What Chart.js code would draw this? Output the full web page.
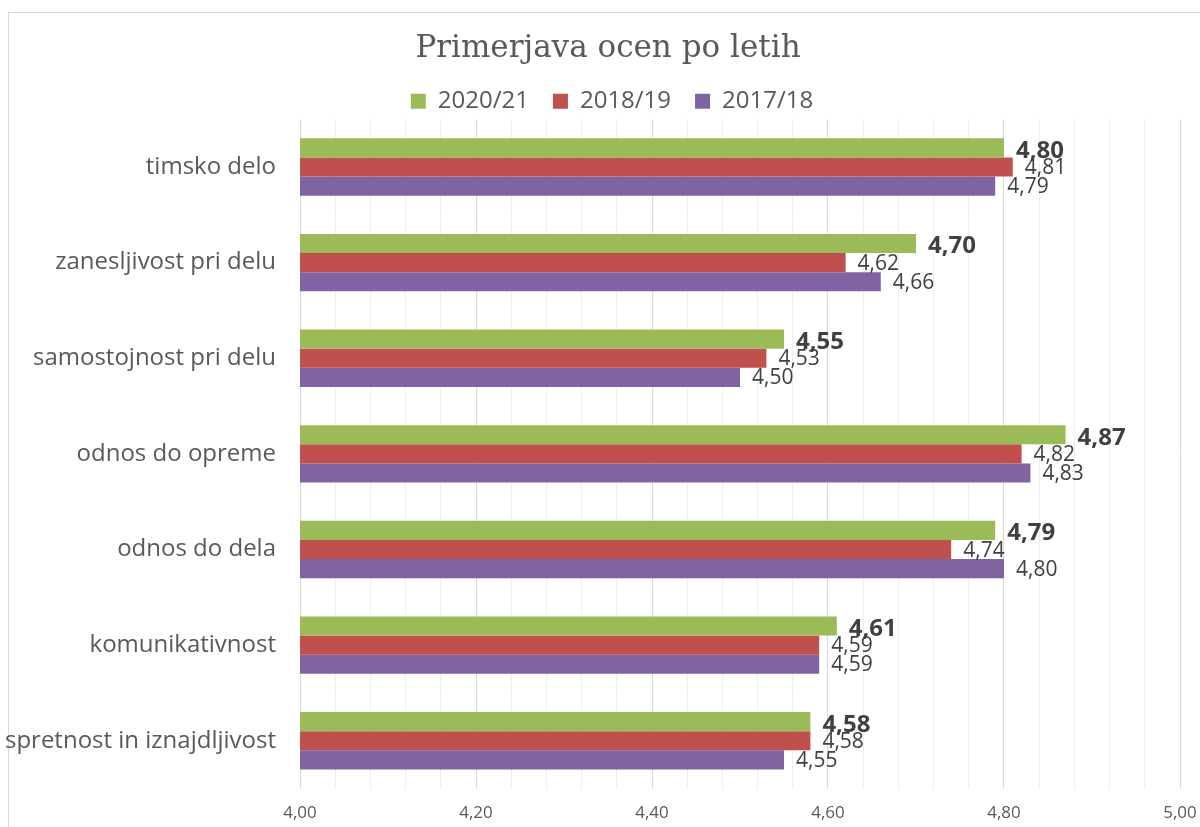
<!DOCTYPE html>
<html>
<head>
<meta charset="utf-8">
<script src="https://cdn.jsdelivr.net/npm/chart.js@4"></script>
<style>
  html, body { margin: 0; padding: 0; background: #fff; overflow: hidden; }
  #frame { position: absolute; left: 8px; top: 12px; width: 1400px; height: 1000px;
           border-left: 1px solid #d9d9d9; border-top: 1px solid #d9d9d9; }
  #wrap { position: absolute; left: 0; top: 0; width: 1200px; height: 827px; }
</style>
</head>
<body>
<div id="frame"></div>
<div id="wrap"><canvas id="chart"></canvas></div>
<script>
// podatki
let categories = ['timsko delo', 'zanesljivost pri delu', 'samostojnost pri delu', 'odnos do opreme', 'odnos do dela', 'komunikativnost', 'spretnost in iznajdljivost'];
let seriesNames = ['2020/21', '2018/19', '2017/18'];
let values2021 = [4.80, 4.70, 4.55, 4.87, 4.79, 4.61, 4.58];
let values1819 = [4.81, 4.62, 4.53, 4.82, 4.74, 4.59, 4.58];
let values1718 = [4.79, 4.66, 4.50, 4.83, 4.80, 4.59, 4.55];
let axisMin = 4.00;
let axisMax = 5.00;

let colors = ['#9bbb59', '#c0504d', '#8064a2'];
let fontName = '"Open Sans", "Noto Sans", sans-serif';

function fmt(v) {
  return v.toFixed(2).replace('.', ',');
}

// oznake vrednosti ob stolpcih
let valueLabels = {
  id: 'valueLabels',
  afterDatasetsDraw(chart) {
    let ctx = chart.ctx;
    ctx.save();
    ctx.textAlign = 'left';
    ctx.textBaseline = 'middle';
    ctx.fillStyle = '#404040';
    chart.data.datasets.forEach((ds, i) => {
      let meta = chart.getDatasetMeta(i);
      ctx.font = i === 0 ? 'bold 24px ' + fontName : '21px ' + fontName;
      meta.data.forEach((bar, j) => {
        ctx.fillText(fmt(ds.data[j]), bar.x + 12, bar.y + (i === 0 ? 3 : 1));
      });
    });
    ctx.restore();
  }
};

// naslov in legenda sta v izvirniku malo desno od sredine
let shiftHeader = {
  id: 'shiftHeader',
  afterLayout(chart) {
    chart.titleBlock.left += 36;
    chart.legend.left += 44;
  }
};

let ctx = document.getElementById('chart');
let chart = new Chart(ctx, {
  type: 'bar',
  data: {
    labels: categories,
    datasets: [
      { label: seriesNames[0], data: values2021, backgroundColor: colors[0] },
      { label: seriesNames[1], data: values1819, backgroundColor: colors[1] },
      { label: seriesNames[2], data: values1718, backgroundColor: colors[2] }
    ]
  },
  options: {
    indexAxis: 'y',
    responsive: true,
    maintainAspectRatio: false,
    animation: false,
    categoryPercentage: 0.6,
    barPercentage: 1.0,
    layout: { padding: { left: 0, right: 20, top: 0, bottom: 0 } },
    plugins: {
      title: {
        display: true,
        text: 'Primerjava ocen po letih',
        color: '#595959',
        font: { family: '"DejaVu Serif", serif', size: 31, weight: 'normal' },
        padding: { top: 30, bottom: -2 }
      },
      legend: {
        display: true,
        position: 'top',
        labels: {
          color: '#595959',
          font: { family: fontName, size: 24 },
          boxWidth: 15,
          boxHeight: 15,
          padding: 24
        }
      },
      tooltip: { enabled: false }
    },
    scales: {
      x: {
        min: axisMin,
        max: axisMax,
        border: { display: false },
        grid: {
          drawTicks: true,
          tickLength: 12,
          tickColor: 'rgba(0,0,0,0)',
          color: (c) => {
            let k = Math.round((c.tick.value - axisMin) / 0.04);
            return k % 5 === 0 ? '#d9d9d9' : '#eeeeee';
          }
        },
        ticks: {
          stepSize: 0.04,
          autoSkip: false,
          maxRotation: 0,
          padding: 2,
          color: '#595959',
          font: { family: fontName, size: 17 },
          callback: function (v) {
            let k = Math.round((v - axisMin) / 0.04);
            return k % 5 === 0 ? fmt(v) : '';
          }
        },
        afterFit: (scale) => { scale.height = 37; }
      },
      y: {
        border: { display: false },
        grid: { display: false, drawTicks: false },
        ticks: {
          color: '#595959',
          font: { family: fontName, size: 24 },
          padding: 24
        },
        afterFit: (scale) => { scale.width = 300; }
      }
    }
  },
  plugins: [valueLabels, shiftHeader]
});

// legenda je malo nizja kot privzeto
let legendFit = chart.legend.fit;
chart.legend.fit = function () {
  legendFit.call(this);
  this.height = this.height - 4;
};
chart.update();
</script>
</body>
</html>
